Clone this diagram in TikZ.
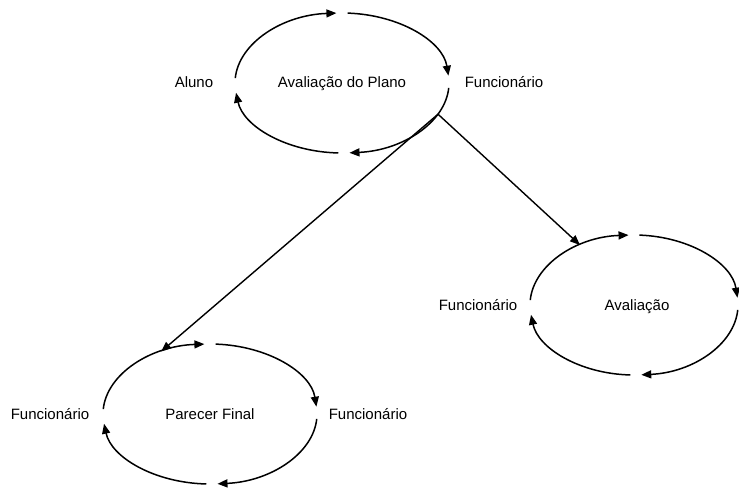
\documentclass[tikz,border=0pt]{standalone}
\usepackage{fontspec}
\setmainfont{Liberation Sans}
\usetikzlibrary{arrows.meta,shapes.geometric}

\tikzset{
  cycle/.style={ellipse, inner sep=0pt, font=\fontsize{15}{18}\selectfont},
  label/.style={anchor=base, inner sep=0pt, font=\fontsize{15}{18}\selectfont},
  tip/.style={-{Triangle[length=10pt,width=8pt]}},
  looparc/.style={line width=1.5pt, tip},
  link/.style={line width=1.4pt, tip}
}

% four clockwise arcs with small gaps around a named ellipse
\newcommand\cyclearcs[3]{%
  \foreach \sa/\ea in {176/93, 87/6, -4/-86, -92/-172}{%
    \draw[looparc] (#1.center) ++(\sa:#2 and #3)
      arc[start angle=\sa, end angle=\ea, x radius=#2, y radius=#3];
  }%
}

\begin{document}
\begin{tikzpicture}[x=1pt,y=1pt]
\useasboundingbox (0,0) rectangle (739,488);

% the three activity cycles
\node[cycle, minimum width=214pt, minimum height=140pt] (plano) at (342,405) {};
\node[cycle, minimum width=208pt, minimum height=140pt] (aval)  at (634,183) {};
\node[cycle, minimum width=214pt, minimum height=140pt] (parecer) at (210,74) {};

\cyclearcs{plano}{107}{70}
\cyclearcs{aval}{104}{70}
\cyclearcs{parecer}{107}{70}

% cycle titles and actors
\node[label] (tplano) at (342,400) {Avaliação do Plano};
\node[label] (aluno)  at (194,400) {Aluno};
\node[label] (func1)  at (504,400) {Funcionário};

\node[label] (taval)  at (637,178) {Avaliação};
\node[label] (func2)  at (478,178) {Funcionário};

\node[label] (tparecer) at (210,69) {Parecer Final};
\node[label] (func3)  at (50,69)  {Funcionário};
\node[label] (func4)  at (368,69) {Funcionário};

% transitions between cycles
\draw[link] (plano.-18.4) -- (aval.132);
\draw[link] (plano.-18.4) -- (parecer.128);
\end{tikzpicture}
\end{document}
